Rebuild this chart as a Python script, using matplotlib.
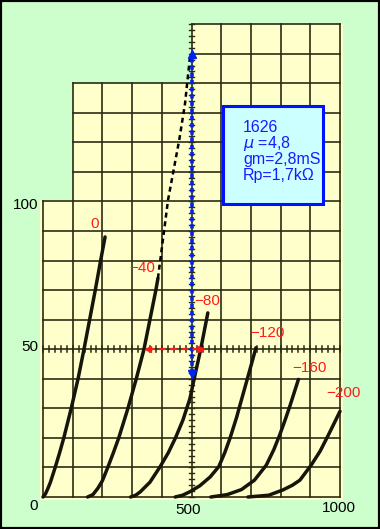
import numpy as np
import matplotlib.pyplot as plt
from matplotlib.patches import Rectangle, Polygon

plt.rcParams['font.family'] = ['Liberation Sans', 'DejaVu Sans']

# plate curves of the 1626 (plate volts, plate mA)
grid_volts = ["0", "\u221240", "\u221280", "\u2212120", "\u2212160", "\u2212200"]
v_g0 = [0, 8, 17, 25, 41, 56, 70, 95, 118, 138, 157, 176, 194, 209]
i_g0 = [0, 1, 3, 5, 10, 15, 20, 30, 40, 50, 60, 70, 80, 88]
v_g40 = [150, 168, 185, 200, 218, 237, 255, 286, 314, 340, 360, 380, 387]
i_g40 = [0, 0.8, 3, 5.5, 10, 15, 20, 30, 40, 50, 60, 70, 74]
v_g80 = [295, 312, 327, 360, 394, 422, 446, 471, 495, 509, 531, 555]
i_g80 = [0, 0.6, 1.7, 5, 10.2, 15, 20, 26, 33.4, 40, 50, 62.3]
v_g120 = [445, 470, 495, 528, 563, 592, 612, 630, 652, 663, 690, 717]
i_g120 = [0, 0.6, 1.8, 3.8, 6.8, 10.3, 15, 20, 27, 31, 40.7, 50.5]
v_g160 = [565, 620, 668, 712, 752, 777, 797, 815, 832, 860]
i_g160 = [0, 0.8, 2.5, 5.7, 10.8, 16, 21, 26, 31, 39.8]
v_g200 = [690, 760, 808, 840, 865, 903, 933, 961, 983, 1000]
i_g200 = [0, 0.6, 2.4, 4, 5.7, 10.8, 15.5, 21, 25.5, 29]

# dashed extension drawn from the end of the -40 curve
v_ext = [387, 421, 459, 478, 495]
i_ext = [74, 100.5, 121, 133, 149]

label_v = [175, 333, 552, 754, 896, 1010]
label_i = [92.4, 77.5, 66.3, 55.5, 43.7, 35.2]

info = ["1626", "$\\mu$ =4,8", "gm=2,8mS", "Rp=1,7k\u03a9"]

curves = [(v_g0, i_g0), (v_g40, i_g40), (v_g80, i_g80),
          (v_g120, i_g120), (v_g160, i_g160), (v_g200, i_g200)]

W, H = 380, 529
fig = plt.figure(figsize=(W/100, H/100), dpi=100, facecolor='#ccffcc')
ax = fig.add_axes([0, 0, 1, 1])
ax.set_facecolor('#ccffcc')
# pixel mapping: x = 43 + 0.297*V, y(top) = 497 - 2.955*I
ax.set_xlim(-43/0.297, (W-43)/0.297)
ax.set_ylim((497-H)/2.955, 497/2.955)
ax.axis('off')

paper = '#ffffcc'
gc = '#2b2b14'
# graph paper outline (stepped at the top)
ax.add_patch(Polygon([(-10, -1), (1010, -1), (1010, 160), (500, 160), (500, 140),
                      (100, 140), (100, 100.5), (-10, 100.5)],
                     closed=True, fc=paper, ec='none', zorder=0))

for v in range(0, 1001, 100):
    top = 100 if v == 0 else (140 if v < 500 else 160)
    ax.plot([v, v], [0, top], color=gc, lw=1.2, zorder=1)
for i in range(0, 161, 10):
    v0 = 0 if i <= 100 else (100 if i <= 140 else 500)
    ax.plot([v0, 1000], [i, i], color=gc, lw=1.2, zorder=1)

# fine ticks along 50 mA and 500 V
for v in range(0, 1001, 20):
    ax.plot([v, v], [49, 51], color=gc, lw=1.1, zorder=1)
for i in range(0, 161, 2):
    ax.plot([492, 508], [i, i], color=gc, lw=1.0, zorder=1)

for (v, i) in curves:
    ax.plot(v, i, color='#15150a', lw=2.5, solid_capstyle='round',
            solid_joinstyle='round', zorder=3)

ax.plot(v_ext, i_ext, color='black', lw=1.8, ls=(0, (2, 1.5)), zorder=3)

for s, x, y in zip(grid_volts, label_v, label_i):
    ax.text(x, y, s, color='#ff1a1a', fontsize=11, ha='center', va='center', zorder=5)

# blue and red arrows
ax.plot([500, 500], [42, 149], color='#0022ee', lw=2.6, ls=(0, (1.2, 0.8)), zorder=4)
ax.plot([500], [150], marker='^', color='#0022ee', ms=6, zorder=4)
ax.plot([500], [41.5], marker='v', color='#0022ee', ms=6, zorder=4)
ax.plot([354, 531], [50, 50], color='#ff1a1a', lw=1.6, ls=(0, (3, 2)), zorder=4)
ax.plot([352], [50], marker='<', color='#ff1a1a', ms=5, zorder=4)
ax.plot([533], [50], marker='>', color='#ff1a1a', ms=5, zorder=4)

# info box
ax.add_patch(Rectangle((606, 99.2), 337, 33.1, fc='#ccffff', ec='#0011ff', lw=2.2, zorder=6))
for k, s in enumerate(info):
    ax.text(673, 124.9 - 5.4*k, s, color='#1a1aff', fontsize=11.5, ha='left',
            va='center', zorder=7)

# axis numbers
ax.text(-17, 98.8, "100", fontsize=11, ha='right', va='center')
ax.text(-17, 50.8, "50", fontsize=11, ha='right', va='center')
ax.text(-30, -3, "0", fontsize=11, ha='center', va='center')
ax.text(488, -4.4, "500", fontsize=11, ha='center', va='center')
ax.text(997, -3.7, "1000", fontsize=11, ha='center', va='center')

fig.patches.append(Rectangle((0, 0), 1, 1, transform=fig.transFigure, fill=False,
                             ec='black', lw=3))

fig.savefig('out.png', dpi=100, facecolor=fig.get_facecolor())
